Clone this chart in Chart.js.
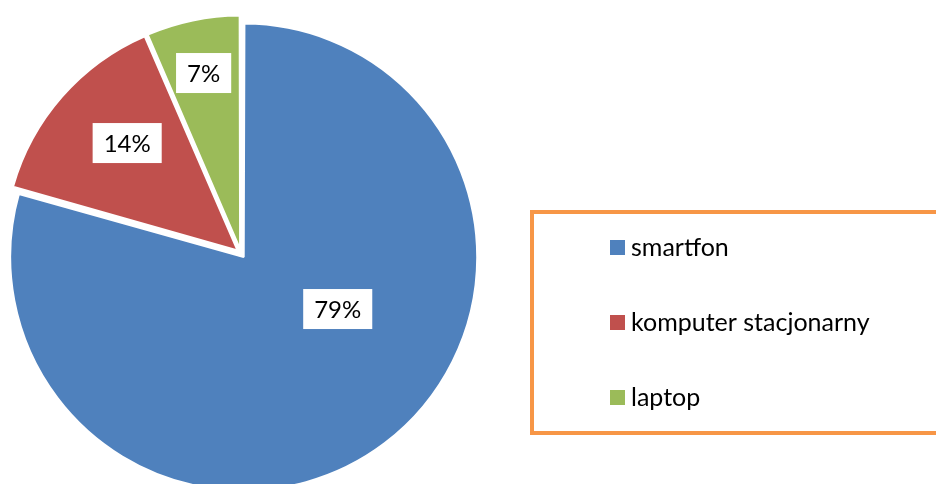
<!DOCTYPE html>
<html>
<head>
<meta charset="utf-8">
<script src="https://cdn.jsdelivr.net/npm/chart.js@4"></script>
<style>
  html, body { margin: 0; padding: 0; background: #fff; }
  #wrap { width: 936px; height: 484px; }
</style>
</head>
<body>
<div id="wrap"><canvas id="chartUrzadzenia" width="936" height="484"></canvas></div>
<script>
// dane
const kategorie = ['smartfon', 'komputer stacjonarny', 'laptop'];
const udzialy = [79.4, 14.1, 6.5];
const kolory = ['#4F81BD', '#C0504D', '#9BBB59'];

// where each value label sits: fraction of radius and angle shift (deg)
const polozenieEtykiet = [
  { r: 0.46, da: -24 },
  { r: 0.66, da: 3 },
  { r: 0.77, da: 0 }
];

const FONT = 'Lato, "Open Sans", sans-serif';

// keep every slice the same radius when exploded (chart.js grows big arcs)
const rownyPromien = {
  id: 'rownyPromien',
  beforeDatasetsDraw(chart) {
    const meta = chart.getDatasetMeta(0);
    const base = meta.controller.outerRadius;
    meta.data.forEach(arc => {
      const off = (arc.options.offset || 0) / 4;
      const fix = 1 - Math.sin(Math.min(Math.PI, arc.circumference || 0));
      arc.outerRadius = base - off * fix;
    });
  }
};

const etykietyWartosci = {
  id: 'etykietyWartosci',
  afterDatasetsDraw(chart) {
    const c = chart.ctx;
    const meta = chart.getDatasetMeta(0);
    const base = meta.controller.outerRadius;
    const dane = chart.data.datasets[0].data;
    const suma = dane.reduce((a, b) => a + b, 0);
    c.save();
    c.font = '24px ' + FONT;
    c.textAlign = 'center';
    c.textBaseline = 'middle';
    meta.data.forEach((arc, i) => {
      const txt = Math.round(dane[i] / suma * 100) + '%';
      const off = (arc.options.offset || 0) / 4;
      const mid = (arc.startAngle + arc.endAngle) / 2;
      const cx = arc.x + Math.cos(mid) * off;
      const cy = arc.y + Math.sin(mid) * off;
      const p = polozenieEtykiet[i];
      const a = mid + p.da * Math.PI / 180;
      const x = cx + Math.cos(a) * base * p.r;
      const y = cy + Math.sin(a) * base * p.r;
      const w = c.measureText(txt).width + 22;
      const h = 40;
      c.fillStyle = '#fff';
      c.fillRect(x - w / 2, y - h / 2, w, h);
      c.fillStyle = '#000';
      c.fillText(txt, x, y + 1);
    });
    c.restore();
  }
};

const legenda = {
  id: 'legenda',
  afterDraw(chart) {
    const c = chart.ctx;
    const ds = chart.data.datasets[0];
    c.save();
    c.strokeStyle = '#F79646';
    c.lineWidth = 4;
    c.strokeRect(532, 212, 420, 221);
    c.font = '25px ' + FONT;
    c.textBaseline = 'middle';
    c.textAlign = 'left';
    chart.data.labels.forEach((lab, i) => {
      const y = 247 + i * 75;
      c.fillStyle = ds.backgroundColor[i];
      c.fillRect(610, y - 7, 15, 15);
      c.fillStyle = '#000';
      c.fillText(lab, 631, y + 1);
    });
    c.restore();
  }
};

const ctx = document.getElementById('chartUrzadzenia');

new Chart(ctx, {
  type: 'pie',
  data: {
    labels: kategorie,
    datasets: [{
      data: udzialy,
      backgroundColor: kolory,
      borderColor: '#fff',
      borderWidth: 2,
      offset: 18,
      radius: 233.5
    }]
  },
  options: {
    responsive: false,
    animation: false,
    layout: { padding: { left: 0, right: 454, top: 23, bottom: 0 } },
    plugins: {
      legend: { display: false },
      tooltip: { enabled: false }
    }
  },
  plugins: [rownyPromien, etykietyWartosci, legenda]
});
</script>
</body>
</html>
